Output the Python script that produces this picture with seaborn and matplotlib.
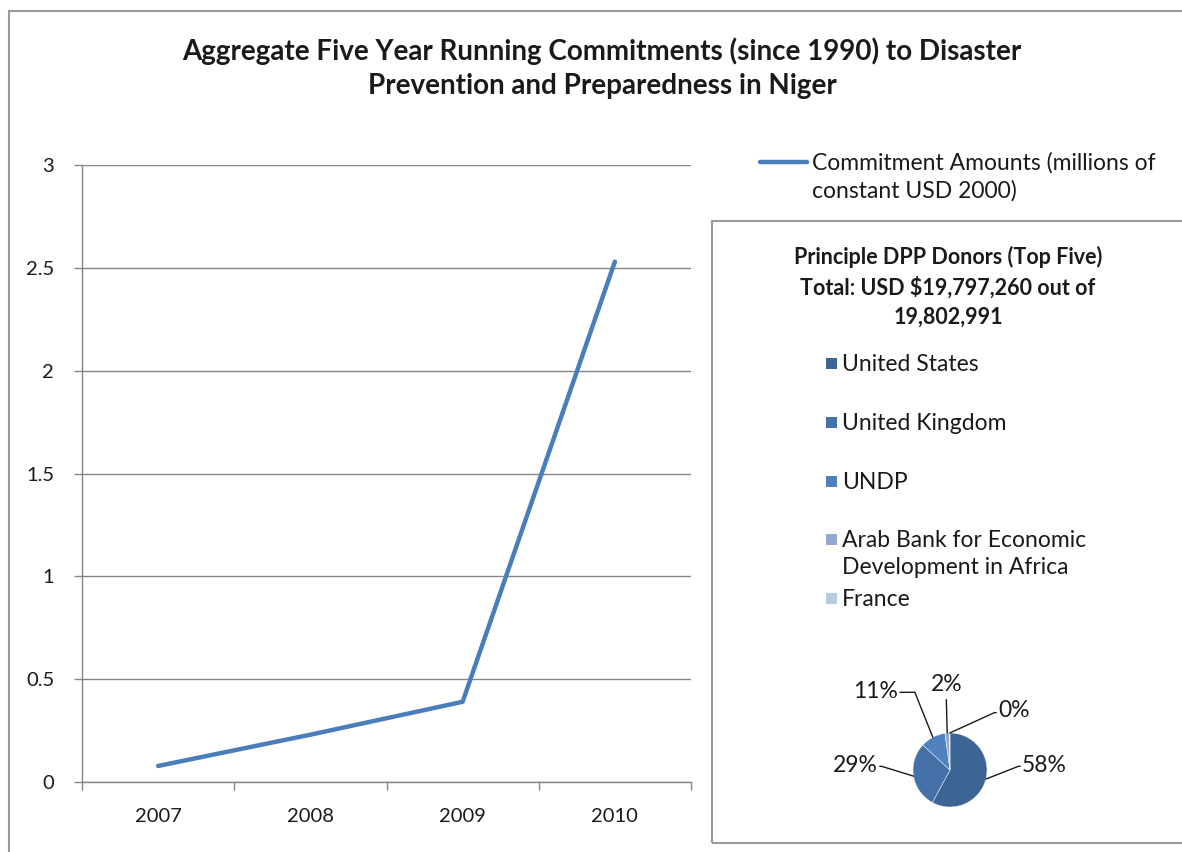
import numpy as np
import pandas as pd
import matplotlib
matplotlib.use("Agg")
import matplotlib.pyplot as plt
from matplotlib.patches import Rectangle
from matplotlib.lines import Line2D
import seaborn as sns

# Five-year running commitments (millions of constant USD 2000)
years = ["2007", "2008", "2009", "2010"]
commitments = [0.078, 0.23, 0.39, 2.53]
y_ticks = [0, 0.5, 1, 1.5, 2, 2.5, 3]
series_label = "Commitment Amounts (millions of\nconstant USD 2000)"

# Top five DPP donors, share of total commitments (%)
donors = ["United States", "United Kingdom", "UNDP",
          "Arab Bank for Economic\nDevelopment in Africa", "France"]
donor_share = [58, 29, 11, 2, 0.2]
donor_colors = ["#3C6494", "#4571A8", "#4F81BD", "#93A9D0", "#B9CBE4"]

line_color = "#4A7EBB"
grid_color = "#868686"
frame_color = "#9a9a9a"
text_color = "#1a1a1a"

W, H = 1182, 852

sns.set_theme(style="white")
plt.rcParams["font.family"] = ["Lato", "DejaVu Sans"]

fig = plt.figure(figsize=(W / 100, H / 100), dpi=100)

# outer chart frame
fig.patches.append(Rectangle((9 / W, -0.01), 1.2, 1 - 11 / H + 0.01,
                             transform=fig.transFigure, fill=False,
                             edgecolor=frame_color, linewidth=1.5))

fig.text(602 / W, 1 - 68 / H,
         "Aggregate Five Year Running Commitments (since 1990) to Disaster\n"
         "Prevention and Preparedness in Niger",
         ha="center", va="center", fontsize=20, fontweight="bold",
         color=text_color, linespacing=1.4)

# ---- line chart ----
ax = fig.add_axes([82 / W, 70 / H, 609 / W, 617 / H])
df = pd.DataFrame({"year": years, "value": commitments})
df["pos"] = np.arange(len(years))
sns.lineplot(data=df, x="pos", y="value", ax=ax, color=line_color,
             linewidth=3.2, legend=False)
ax.set_xlim(-0.5, len(years) - 0.5)
ax.set_ylim(0, 3)
ax.set_yticks(y_ticks)
ax.set_yticklabels([f"{t:g}" for t in y_ticks])
ax.set_xticks(df["pos"])
ax.set_xticklabels(years)
ax.set_xticks(np.arange(len(years) + 1) - 0.5, minor=True)
ax.tick_params(axis="x", which="major", length=0, pad=19, labelsize=14.5,
               colors=text_color)
ax.tick_params(axis="x", which="minor", length=6, width=1, color=grid_color,
               direction="out", bottom=True)
ax.tick_params(axis="y", length=6, width=1, color=grid_color, direction="out",
               left=True, pad=14, labelsize=14.5, labelcolor=text_color)
ax.set_xlabel("")
ax.set_ylabel("")
ax.yaxis.grid(True, color=grid_color, linewidth=1)
ax.set_axisbelow(True)
for side in ["top", "right"]:
    ax.spines[side].set_visible(False)
for side in ["left", "bottom"]:
    ax.spines[side].set_color(grid_color)
    ax.spines[side].set_linewidth(1)

# series key
fig.add_artist(Line2D([760 / W, 807 / W], [1 - 162 / H, 1 - 162 / H],
                      transform=fig.transFigure, color=line_color,
                      linewidth=3.2, solid_capstyle="round"))
fig.text(812 / W, 1 - 152 / H, series_label, ha="left", va="top",
         fontsize=16.5, color=text_color, linespacing=1.38)

# ---- donor pie panel ----
fig.patches.append(Rectangle((712 / W, 1 - 843 / H), 0.5, (843 - 221) / H,
                             transform=fig.transFigure, fill=False,
                             edgecolor=frame_color, linewidth=1.5))
fig.text(948 / W, 1 - 287 / H,
         "Principle DPP Donors (Top Five)\nTotal: USD $19,797,260 out of\n19,802,991",
         ha="center", va="center", fontsize=15.5, fontweight="bold",
         color=text_color, linespacing=1.45)

pax = fig.add_axes([(950 - 37) / W, (H - 807) / H, 74 / W, 74 / H])
wedges, _ = pax.pie(donor_share, colors=donor_colors, startangle=90,
                    counterclock=False, radius=1,
                    wedgeprops=dict(edgecolor="white", linewidth=0.3))
pax.set_xlim(-1, 1)
pax.set_ylim(-1, 1)
pax.set_aspect("equal")
pax.axis("off")

total = sum(donor_share)
# label placement (text anchor, elbow) in pie-radius units
label_layout = [
    ((1.9, 0.12), (1.85, 0.1), "left"),
    ((-1.9, 0.12), (-1.85, 0.1), "right"),
    ((-1.35, 2.12), (-0.95, 2.1), "right"),
    ((-0.1, 1.95), (-0.1, 1.9), "center"),
    ((1.25, 1.6), (1.2, 1.55), "left"),
]
for w, share, (txt, elbow, ha) in zip(wedges, donor_share, label_layout):
    mid = np.deg2rad((w.theta1 + w.theta2) / 2)
    edge = (np.cos(mid), np.sin(mid))
    pct = f"{share / total * 100:.0f}%"
    if ha == "center":
        xs, ys = [edge[0], elbow[0]], [edge[1], elbow[1]]
    else:
        xs, ys = [edge[0], elbow[0], txt[0]], [edge[1], elbow[1], elbow[1]]
    pax.plot(xs, ys, color=text_color, linewidth=1, clip_on=False)
    offx = 0.05 if ha == "left" else -0.05 if ha == "right" else 0
    offy = 0.35 if ha == "center" else 0.0
    pax.text(txt[0] + offx, txt[1] + offy, pct, ha=ha, va="center",
             fontsize=16.5, color=text_color, clip_on=False)

# donor key
key_rows = [364, 423, 482, 540, 599]
for name, color, row in zip(donors, donor_colors, key_rows):
    fig.patches.append(Rectangle((826 / W, 1 - (row + 5) / H), 11 / W, 11 / H,
                                 transform=fig.transFigure, facecolor=color,
                                 edgecolor="none"))
    fig.text(842 / W, 1 - (row - 10) / H, name, ha="left", va="top",
             fontsize=16.5, color=text_color, linespacing=1.38)

fig.savefig("out.png", dpi=100, facecolor="white")
